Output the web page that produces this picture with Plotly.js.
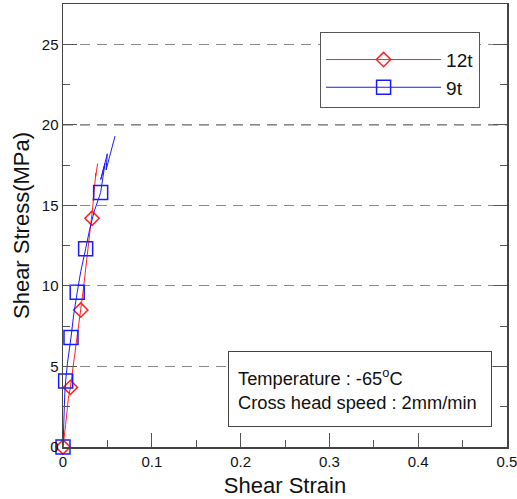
<!DOCTYPE html>
<html>
<head>
<meta charset="utf-8">
<script src="https://cdn.plot.ly/plotly-3.0.1.min.js"></script>
<style>html,body{margin:0;padding:0;background:#fff}#chart{width:517px;height:499px}</style>
</head>
<body>
<div id="chart"></div>
<script>
// 12t specimen (red)
const strain12t = [0, 0.0015, 0.003, 0.0045, 0.006, 0.0083, 0.0105, 0.0125, 0.0145, 0.017, 0.020, 0.0225, 0.025, 0.0275, 0.030, 0.0315, 0.0327, 0.0335, 0.0345, 0.034, 0.0355, 0.035, 0.037, 0.0365, 0.039];
const stress12t = [0, 0.6, 1.4, 2.2, 3.0, 3.7, 4.6, 5.3, 6.1, 7.2, 8.5, 9.6, 10.8, 11.9, 13.0, 13.7, 14.2, 14.9, 15.6, 15.3, 16.3, 15.9, 17.0, 16.7, 17.6];
const isMark12t = [1, 0, 0, 0, 0, 1, 0, 0, 0, 0, 1, 0, 0, 0, 0, 0, 1, 0, 0, 0, 0, 0, 0, 0, 0];

// 9t specimen (blue)
const strain9t = [0, 0.0005, 0.001, 0.002, 0.003, 0.005, 0.009, 0.012, 0.016, 0.020, 0.0255, 0.030, 0.035, 0.039, 0.0424, 0.0473, 0.0425, 0.0499, 0.0485, 0.0586];
const stress9t = [0, 1.2, 2.4, 3.3, 4.1, 5.2, 6.8, 8.2, 9.6, 10.9, 12.3, 13.5, 14.6, 15.3, 15.8, 17.6, 16.6, 18.2, 17.2, 19.3];
const isMark9t = [1, 0, 0, 0, 1, 0, 1, 0, 1, 0, 1, 0, 0, 0, 1, 0, 0, 0, 0, 0];

const seriesNames = ['12t', '9t'];
const xTicks = [0, 0.1, 0.2, 0.3, 0.4, 0.5];
const yTicks = [0, 5, 10, 15, 20, 25];
const noteLines = ['Temperature : -65<sup>o</sup>C', 'Cross head speed : 2mm/min'];

const RED = '#ff2020', BLUE = '#1a1aff';
const font = 'Arial, "Liberation Sans", sans-serif';

function lineColors(flags, c) { return flags.map(f => f ? c : 'rgba(0,0,0,0)'); }

const traces = [
  {
    x: strain12t, y: stress12t, name: seriesNames[0], type: 'scatter', mode: 'lines+markers',
    line: {color: RED, width: 1},
    marker: {symbol: 'diamond', size: 11, color: 'rgba(0,0,0,0)',
             line: {color: lineColors(isMark12t, RED), width: 1.5}},
    cliponaxis: false
  },
  {
    x: strain9t, y: stress9t, name: seriesNames[1], type: 'scatter', mode: 'lines+markers',
    line: {color: BLUE, width: 1},
    marker: {symbol: 'square', size: 14, color: 'rgba(0,0,0,0)',
             line: {color: lineColors(isMark9t, BLUE), width: 1.5}},
    cliponaxis: false
  }
];

const layout = {
  width: 517, height: 499,
  margin: {l: 63, r: 10, t: 4, b: 52},
  paper_bgcolor: '#fff', plot_bgcolor: '#fff',
  font: {family: font, color: '#111', size: 15},
  showlegend: true,
  legend: {
    x: 0.579, y: 0.937, xanchor: 'left', yanchor: 'top',
    bgcolor: '#fff', bordercolor: '#555', borderwidth: 1,
    font: {family: font, size: 19, color: '#111'},
    title: {text: ' ', font: {size: 6}},
    itemwidth: 115, tracegroupgap: 0
  },
  xaxis: {
    range: [0, 0.5], tickvals: xTicks, ticktext: xTicks.map(String),
    ticks: 'inside', ticklen: 14, tickcolor: '#555', tickwidth: 1,
    minor: {dtick: 0.05, ticks: 'inside', ticklen: 7, tickcolor: '#555', tickwidth: 1, showgrid: false},
    showline: true, linecolor: '#444', linewidth: 1.5, mirror: true,
    showgrid: false, zeroline: false, ticklabeloverflow: 'allow',
    tickfont: {size: 15, family: font, color: '#111'},
    title: {text: 'Shear Strain', font: {size: 22, family: font, color: '#111'}, standoff: 9}
  },
  yaxis: {
    range: [0, 27.5], tickvals: yTicks, ticktext: yTicks.map(String),
    ticks: 'inside', ticklen: 14, tickcolor: '#555', tickwidth: 1,
    minor: {dtick: 2.5, ticks: 'inside', ticklen: 7, tickcolor: '#555', tickwidth: 1, showgrid: false},
    showline: true, linecolor: '#444', linewidth: 1.5, mirror: 'ticks',
    showgrid: true, gridcolor: '#8a8a8a', gridwidth: 1, griddash: '10px,7px',
    zeroline: false, ticklabeloverflow: 'allow',
    tickfont: {size: 15, family: font, color: '#111'},
    title: {text: 'Shear Stress(MPa)', font: {size: 22, family: font, color: '#111'}, standoff: 6}
  },
  shapes: [
    {type: 'line', xref: 'paper', x0: 0, x1: 1, yref: 'y', y0: yTicks[4], y1: yTicks[4],
     line: {color: '#111', width: 1, dash: '10px,7px'}, layer: 'below'}
  ],
  annotations: [
    {xref: 'paper', yref: 'paper', x: 0.669, y: 0.13, xanchor: 'center', yanchor: 'middle',
     text: noteLines.join('<br>'), align: 'left', showarrow: false,
     width: 244, height: 56, borderpad: 9, bordercolor: '#444', borderwidth: 1, bgcolor: '#fff',
     font: {family: font, size: 18.3, color: '#111'}}
  ]
};

Plotly.newPlot('chart', traces, layout, {staticPlot: true, displayModeBar: false});
</script>
</body>
</html>
